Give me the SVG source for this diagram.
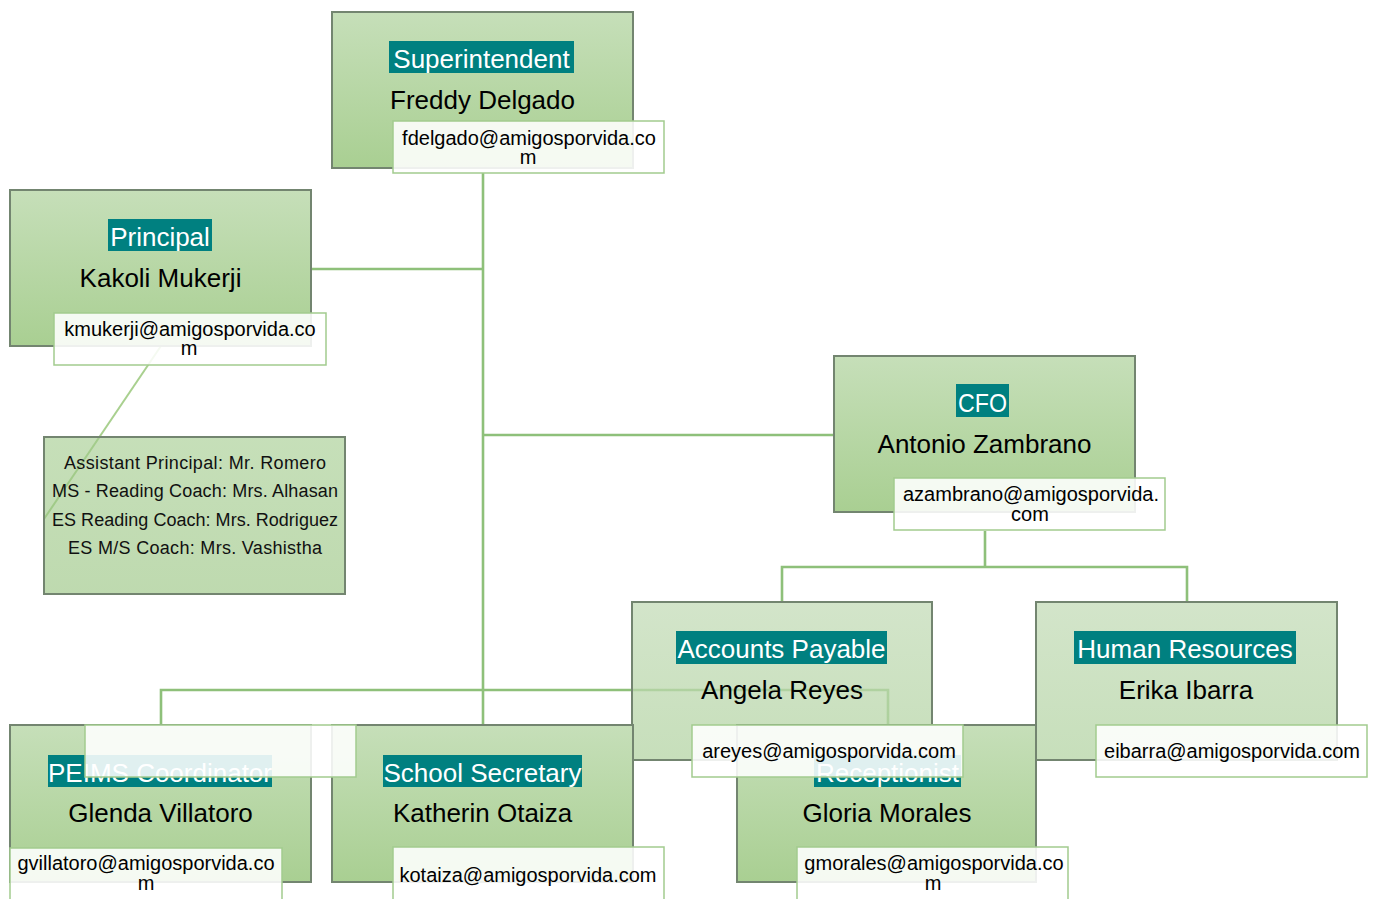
<svg xmlns="http://www.w3.org/2000/svg" width="1380" height="899" viewBox="0 0 1380 899">
<defs>
<linearGradient id="gMain" x1="0" y1="0" x2="0" y2="1">
<stop offset="0" stop-color="#c6dfb9"/>
<stop offset="1" stop-color="#a9cf92"/>
</linearGradient>
<linearGradient id="gLight" x1="0" y1="0" x2="0" y2="1">
<stop offset="0" stop-color="#c4dcb8"/>
<stop offset="1" stop-color="#b4d4a4"/>
</linearGradient>
<linearGradient id="gAsst" x1="0" y1="0" x2="0" y2="1">
<stop offset="0" stop-color="#a0ca8a"/>
<stop offset="1" stop-color="#93c17a"/>
</linearGradient>
</defs>
<style>
.box{fill:url(#gMain);stroke:#738570;stroke-width:2}
.light{fill:url(#gLight);fill-opacity:0.75}
.asst{fill:url(#gAsst);fill-opacity:0.6}
.tbg{fill:#008080}
.title{font-family:"Liberation Sans",Arial,sans-serif;font-size:26px;fill:#ffffff;text-anchor:middle}
.name{font-family:"Liberation Sans",Arial,sans-serif;font-size:26px;fill:#000000;text-anchor:middle}
.mail{fill:#ffffff;fill-opacity:0.88;stroke:#a2cb8e;stroke-width:1.5}
.mt{font-family:"Liberation Sans",Arial,sans-serif;font-size:20px;fill:#000000;text-anchor:middle}
.at{font-family:"Liberation Sans",Arial,sans-serif;font-size:18px;fill:#111111;text-anchor:middle}
.conn{fill:none;stroke:#8ec07a;stroke-width:2.6}
.diag{fill:none;stroke:#a9d08f;stroke-width:2}
</style>

<g id="connectors">
<path class="conn" d="M483 173 V725"/>
<path class="conn" d="M311 269 H483"/>
<path class="conn" d="M483 435 H834"/>
<path class="conn" d="M161 725 V690 H888 V725"/>
<path class="conn" d="M985 531 V567"/>
<path class="conn" d="M782 602 V567 H1187 V602"/>
<path class="diag" d="M165 340 L44 519"/>
</g>

<g id="node-superintendent">
<rect class="box" x="332" y="12" width="301" height="156"/>
<rect class="tbg" x="389" y="41" width="185" height="32"/>
<text class="title" x="481.5" y="68">Superintendent</text>
<text class="name" x="482.5" y="109">Freddy Delgado</text>
</g>

<g id="node-principal">
<rect class="box" x="10" y="190" width="301" height="156"/>
<rect class="tbg" x="108" y="219" width="104" height="32"/>
<text class="title" x="160" y="246">Principal</text>
<text class="name" x="160.5" y="287">Kakoli Mukerji</text>
</g>

<g id="node-assistants">
<rect class="box asst" x="44" y="437" width="301" height="157"/>
<text class="at" x="195" y="469" textLength="262" lengthAdjust="spacing">Assistant Principal: Mr. Romero</text>
<text class="at" x="195" y="497" textLength="286" lengthAdjust="spacing">MS - Reading Coach: Mrs. Alhasan</text>
<text class="at" x="195" y="526" textLength="286" lengthAdjust="spacing">ES Reading Coach: Mrs. Rodriguez</text>
<text class="at" x="195" y="554" textLength="254" lengthAdjust="spacing">ES M/S Coach: Mrs. Vashistha</text>
</g>

<g id="node-cfo">
<rect class="box" x="834" y="356" width="301" height="156"/>
<rect class="tbg" x="956" y="384" width="53" height="33"/>
<text class="title" x="982.5" y="412" textLength="49" lengthAdjust="spacingAndGlyphs">CFO</text>
<text class="name" x="984.5" y="453">Antonio Zambrano</text>
</g>

<g id="node-accounts-payable">
<rect class="box light" x="632" y="602" width="300" height="158"/>
<rect class="tbg" x="676" y="631" width="211" height="33"/>
<text class="title" x="781.5" y="658">Accounts Payable</text>
<text class="name" x="782" y="699">Angela Reyes</text>
</g>

<g id="node-human-resources">
<rect class="box light" x="1036" y="602" width="301" height="158"/>
<rect class="tbg" x="1074" y="631" width="222" height="33"/>
<text class="title" x="1185" y="658">Human Resources</text>
<text class="name" x="1186" y="699">Erika Ibarra</text>
</g>

<g id="node-peims">
<rect class="box" x="10" y="725" width="301" height="157"/>
<rect class="tbg" x="48" y="755" width="224" height="32"/>
<text class="title" x="160" y="782">PEIMS Coordinator</text>
<text class="name" x="160.5" y="822">Glenda Villatoro</text>
</g>

<g id="node-school-secretary">
<rect class="box" x="332" y="725" width="301" height="157"/>
<rect class="tbg" x="383" y="755" width="199" height="32"/>
<text class="title" x="482.5" y="782">School Secretary</text>
<text class="name" x="482.5" y="822">Katherin Otaiza</text>
</g>

<g id="node-receptionist">
<rect class="box" x="737" y="725" width="299" height="157"/>
<rect class="tbg" x="814" y="755" width="147" height="32"/>
<text class="title" x="887.5" y="782">Receptionist</text>
<text class="name" x="887" y="822">Gloria Morales</text>
</g>

<g id="email-labels">
<g id="email-superintendent">
<rect class="mail" x="393" y="121" width="271" height="52"/>
<text class="mt" x="529" y="145">fdelgado@amigosporvida.co</text>
<text class="mt" x="528" y="164">m</text>
</g>
<g id="email-principal">
<rect class="mail" x="54" y="313" width="272" height="52"/>
<text class="mt" x="190" y="336">kmukerji@amigosporvida.co</text>
<text class="mt" x="189" y="355">m</text>
</g>
<g id="email-cfo">
<rect class="mail" x="894" y="478" width="271" height="52"/>
<text class="mt" x="1031" y="501">azambrano@amigosporvida.</text>
<text class="mt" x="1030" y="521">com</text>
</g>
<g id="email-accounts-payable">
<rect class="mail" x="692" y="725" width="271" height="52"/>
<text class="mt" x="829" y="758">areyes@amigosporvida.com</text>
</g>
<g id="email-human-resources">
<rect class="mail" x="1096" y="725" width="271" height="52"/>
<text class="mt" x="1232" y="758">eibarra@amigosporvida.com</text>
</g>
<g id="email-empty">
<rect class="mail" x="85" y="725" width="271" height="52"/>
</g>
<g id="email-peims">
<rect class="mail" x="10" y="848" width="272" height="60"/>
<text class="mt" x="146" y="870">gvillatoro@amigosporvida.co</text>
<text class="mt" x="146" y="890">m</text>
</g>
<g id="email-school-secretary">
<rect class="mail" x="393" y="847" width="271" height="60"/>
<text class="mt" x="528" y="882">kotaiza@amigosporvida.com</text>
</g>
<g id="email-receptionist">
<rect class="mail" x="797" y="847" width="271" height="60"/>
<text class="mt" x="934" y="870">gmorales@amigosporvida.co</text>
<text class="mt" x="933" y="890">m</text>
</g>
</g>
</svg>
